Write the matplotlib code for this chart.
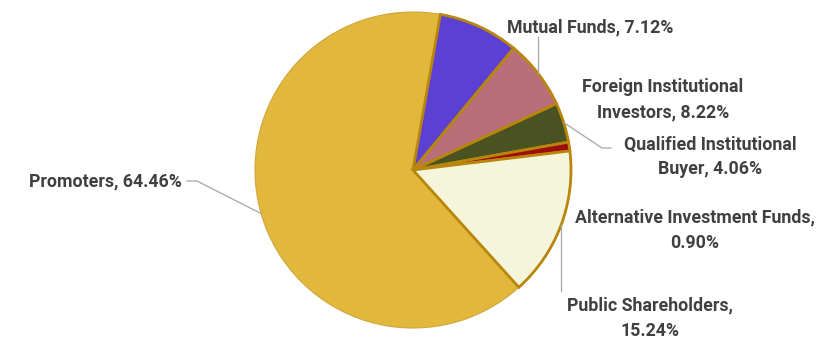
import numpy as np
import matplotlib
matplotlib.use("Agg")
import matplotlib.pyplot as plt

# Shareholding pattern (percent), clockwise from the top
names = ["Foreign Institutional Investors", "Mutual Funds", "Qualified Institutional Buyer",
         "Alternative Investment Funds", "Public Shareholders", "Promoters"]
values = [8.22, 7.12, 4.06, 0.90, 15.24, 64.46]
colors = ["#5C3FD3", "#B96F79", "#4A5222", "#A00B0B", "#F5F5DC", "#E1B83C"]

plt.rcParams["font.family"] = ["Roboto", "DejaVu Sans"]

W, H = 820, 338
fig = plt.figure(figsize=(W / 100, H / 100), dpi=100)
cx, cy, r = 413, 170, 158
ax = fig.add_axes([(cx - r) / W, (H - cy - r) / H, 2 * r / W, 2 * r / H])

wedges, _ = ax.pie(values, colors=colors, startangle=80, counterclock=False,
                   wedgeprops=dict(edgecolor="#B8860B", linewidth=2.0))
# the large slice has a softer outline
wedges[-1].set_edgecolor("#CFA53C")
wedges[-1].set_linewidth(0.8)
wedges[-1].set_zorder(0)
ax.set_xlim(-1, 1)
ax.set_ylim(-1, 1)
ax.set_aspect("equal")
ax.axis("off")


def px(x, y):
    """Pixel position (from top-left) to pie data coordinates."""
    return ((x - cx) / r, (cy - y) / r)


def mid(w):
    a = np.deg2rad((w.theta1 + w.theta2) / 2)
    return np.cos(a), np.sin(a)


text_kw = dict(fontsize=12.8, fontweight="bold", color="#404040",
               ha="center", va="center", linespacing=1.5, clip_on=False)
lines_kw = dict(color="#A6A6A6", linewidth=0.9, clip_on=False)

text_pos = {
    0: (663, 100, "Foreign Institutional\nInvestors, {:.2f}%"),
    1: (590, 27, "Mutual Funds, {:.2f}%"),
    2: (710, 157, "Qualified Institutional\nBuyer, {:.2f}%"),
    3: (695, 230, "Alternative Investment Funds,\n{:.2f}%"),
    4: (650, 318, "Public Shareholders,\n{:.2f}%"),
    5: (105, 181, "Promoters, {:.2f}%"),
}
for i, (x, y, fmt) in text_pos.items():
    tx, ty = px(x, y)
    ax.text(tx, ty, fmt.format(values[i]), **text_kw)

# leader lines from slice midpoints to their labels
mx, my = mid(wedges[1])
ax.plot([mx, mx], [my, px(0, 37)[1]], **lines_kw)

qx, qy = mid(wedges[2])
ax.plot([qx, px(602, 0)[0], px(611, 0)[0]], [qy, px(0, 148)[1], px(0, 148)[1]], **lines_kw)

sx, sy = mid(wedges[4])
ax.plot([sx, sx], [sy, px(0, 291)[1]], **lines_kw)

ppx, ppy = mid(wedges[5])
ax.plot([ppx, px(197, 0)[0], px(187, 0)[0]], [ppy, px(0, 181)[1], px(0, 181)[1]], **lines_kw)

fig.savefig("out.png", dpi=100)
